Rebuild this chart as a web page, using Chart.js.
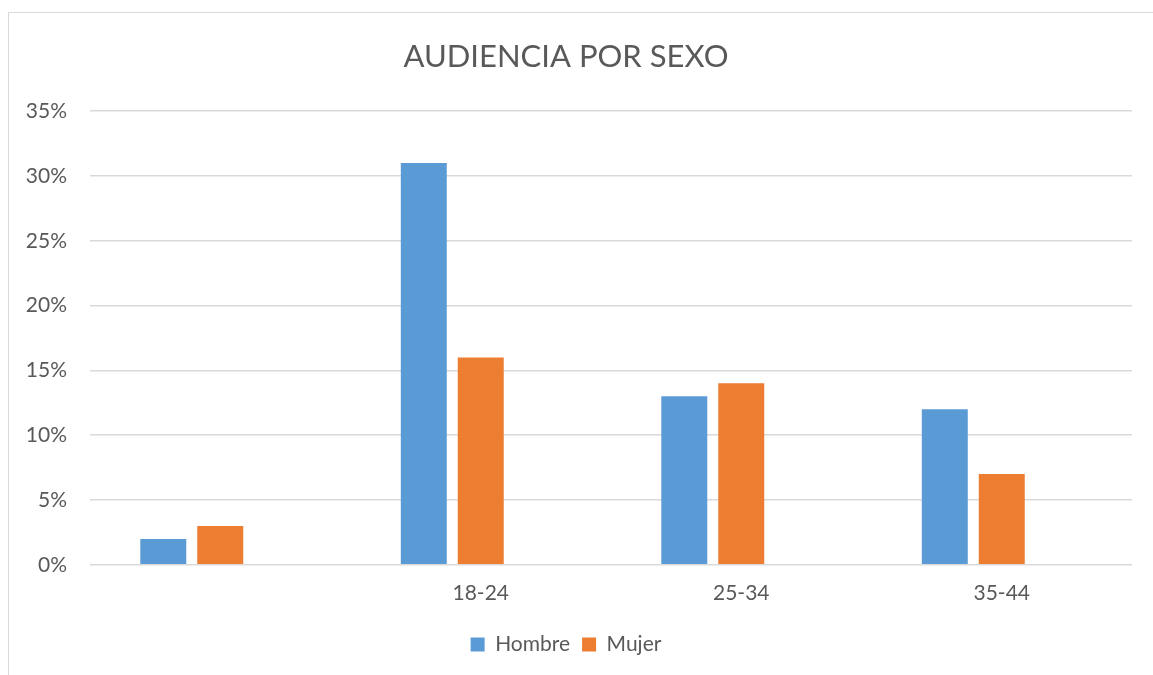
<!DOCTYPE html>
<html>
<head>
<meta charset="utf-8">
<script src="https://cdn.jsdelivr.net/npm/chart.js@4"></script>
<style>
  body { margin: 0; background: #fff; }
  #wrap { position: relative; width: 1153px; height: 675px; overflow: hidden; }
  #frame { position: absolute; left: 8px; top: 12px; width: 1160px; height: 700px; border: 1px solid #D9D9D9; box-sizing: border-box; }
  canvas { position: absolute; left: 0; top: 0; }
</style>
</head>
<body>
<div id="wrap">
  <div id="frame"></div>
  <canvas id="chart" width="1153" height="675"></canvas>
</div>
<script>
const categories = ['', '18-24', '25-34', '35-44'];
const hombre = [2, 31, 13, 12];
const mujer = [3, 16, 14, 7];
const vacio = [null, null, null, null]; // third empty series in the original sheet
const yTicks = [0, 5, 10, 15, 20, 25, 30, 35];

const ctx = document.getElementById('chart').getContext('2d');
const myChart = new Chart(ctx, {
    type: 'bar',
    data: {
        labels: categories,
        datasets: [
            { label: 'Hombre', data: hombre, backgroundColor: '#5B9BD5' },
            { label: 'Mujer', data: mujer, backgroundColor: '#ED7D31' },
            { label: '', data: vacio, backgroundColor: 'rgba(0,0,0,0)' }
        ]
    },
    options: {
        responsive: false,
        animation: false,
        categoryPercentage: 0.656,
        barPercentage: 0.807,
        layout: { padding: { left: 0, right: 21, top: 0, bottom: 10 } },
        plugins: {
            title: {
                display: true,
                text: 'AUDIENCIA POR SEXO',
                color: '#595959',
                font: { family: 'Lato', size: 31, weight: 'normal' },
                padding: { top: 38, bottom: 36 }
            },
            legend: {
                position: 'bottom',
                labels: {
                    color: '#595959',
                    font: { family: 'Lato', size: 21 },
                    boxWidth: 14,
                    boxHeight: 14,
                    padding: 12,
                    filter: item => item.text !== ''
                }
            },
            tooltip: { enabled: false }
        },
        scales: {
            x: {
                grid: { display: false, drawTicks: false },
                border: { display: false },
                ticks: { color: '#595959', font: { family: 'Lato', size: 21 }, padding: 16, maxRotation: 0 }
            },
            y: {
                min: 0,
                max: 35,
                afterBuildTicks: scale => { scale.ticks = yTicks.map(v => ({ value: v })); },
                afterFit: scale => { scale.width = 90; },
                grid: { color: '#D9D9D9', lineWidth: 1.5, drawTicks: false },
                border: { display: false },
                ticks: {
                    color: '#595959',
                    font: { family: 'Lato', size: 21 },
                    padding: 23,
                    callback: v => v + '%'
                }
            }
        }
    }
});
</script>
</body>
</html>
